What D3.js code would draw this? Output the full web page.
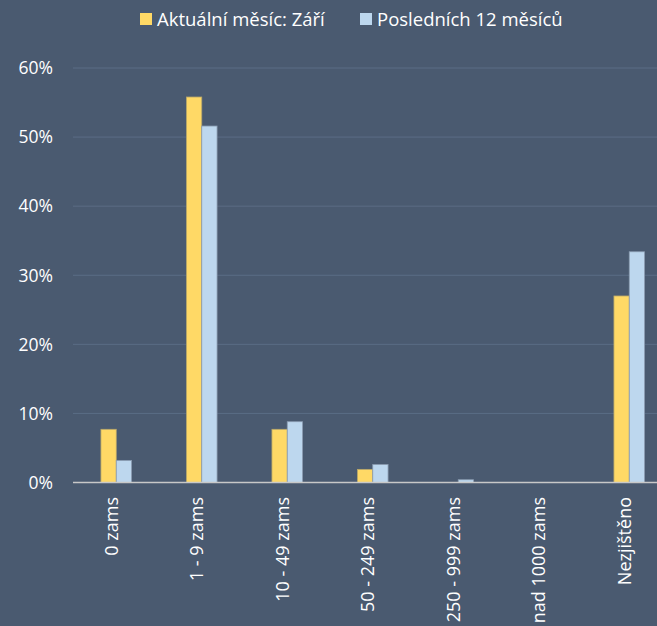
<!DOCTYPE html>
<html>
<head>
  <meta charset="utf-8">
  <style>
    body { margin: 0; background: #4A5A70; }
    svg { display: block; }
    text { font-family: "Open Sans", "Noto Sans", sans-serif; fill: #fff; }
  </style>
  <script src="https://cdn.jsdelivr.net/npm/d3@7"></script>
</head>
<body>
<script>
  // data
  var categories = ['0 zams', '1 - 9 zams', '10 - 49 zams', '50 - 249 zams', '250 - 999 zams', 'nad 1000 zams', 'Nezjištěno'];
  var seriesNames = ['Aktuální měsíc: Září', 'Posledních 12 měsíců'];
  var current = [7.7, 55.8, 7.7, 1.9, 0, 0, 27.0];
  var last12 = [3.2, 51.6, 8.8, 2.6, 0.4, 0, 33.4];
  var yTicks = [0, 10, 20, 30, 40, 50, 60];
  var colors = ['#FFD966', '#BDD7EE'];

  var W = 657, H = 626;
  var svg = d3.select('body').append('svg').attr('width', W).attr('height', H);
  svg.append('rect').attr('width', W).attr('height', H).attr('fill', '#4A5A70');

  var x = d3.scaleBand().domain(categories).range([73.5, 672]);
  var y = d3.scaleLinear().domain([0, 60]).range([482.5, 68]);
  var bw = x.step() * 0.179;

  // grid
  svg.append('g').selectAll('line').data(yTicks.slice(1)).join('line')
    .attr('x1', 73).attr('x2', W)
    .attr('y1', d => y(d)).attr('y2', d => y(d))
    .attr('stroke', '#5B6D85').attr('stroke-width', 1);

  // y labels
  svg.append('g').selectAll('text').data(yTicks).join('text')
    .attr('x', 53).attr('y', d => y(d))
    .attr('dy', '0.36em').attr('text-anchor', 'end')
    .style('font-size', '17.5px')
    .text(d => d + '%');

  // bars
  var series = [current, last12];
  series.forEach(function (vals, si) {
    svg.append('g').selectAll('rect').data(vals).join('rect')
      .attr('x', (d, i) => x(categories[i]) + x.bandwidth() / 2 - bw + si * bw)
      .attr('width', bw)
      .attr('y', d => y(d))
      .attr('height', d => y(0) - y(d))
      .attr('fill', colors[si])
      .attr('stroke', si ? '#8A9BB0' : '#B8A76A')
      .attr('stroke-width', d => d > 0 ? 0.8 : 0);
  });

  // x axis line
  svg.append('line')
    .attr('x1', 73).attr('x2', W)
    .attr('y1', y(0)).attr('y2', y(0))
    .attr('stroke', '#C8C8C8').attr('stroke-width', 1.5);

  // x labels
  svg.append('g').selectAll('text').data(categories).join('text')
    .attr('transform', d => 'translate(' + (x(d) + x.bandwidth() / 2 + 1.5) + ',497) rotate(-90)')
    .attr('text-anchor', 'end')
    .style('font-size', '18px')
    .text(d => d);

  // legend
  var legendX = [140, 360];
  var lg = svg.append('g').selectAll('g').data(seriesNames).join('g')
    .attr('transform', (d, i) => 'translate(' + legendX[i] + ',13)');
  lg.append('rect').attr('width', 12).attr('height', 12).attr('fill', (d, i) => colors[i]);
  lg.append('text').attr('x', 17).attr('y', 6).attr('dy', '0.36em')
    .style('font-size', '18.5px')
    .text(d => d);
</script>
</body>
</html>
